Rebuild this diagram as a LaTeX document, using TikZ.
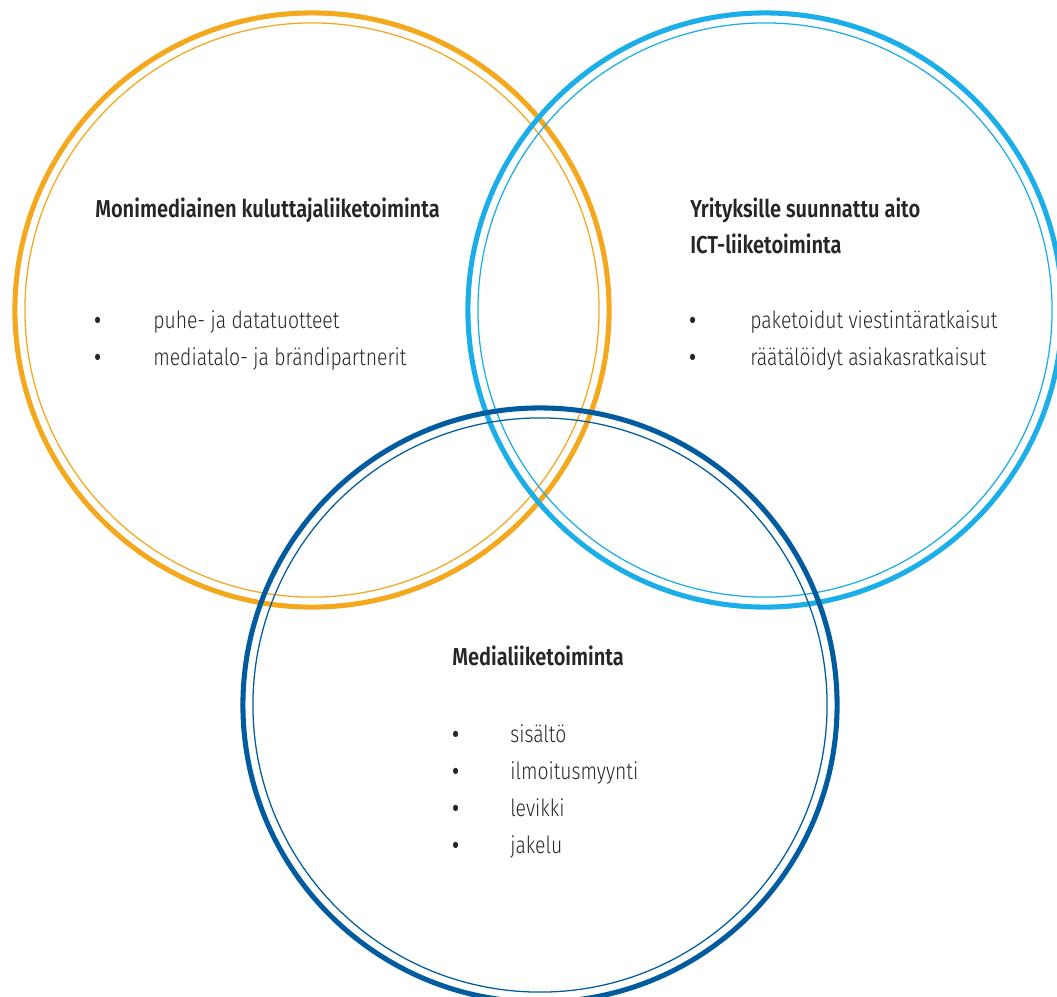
\documentclass[tikz,border=0pt]{standalone}
\usepackage{fontspec}
\setmainfont{Fira Sans}[FakeStretch=0.82, UprightFont={* Light}, BoldFont={* SemiBold}]
\usepackage{tikz}
\usetikzlibrary{calc,positioning}

\definecolor{oranssi}{HTML}{F4A81D}
\definecolor{vaalea}{HTML}{1CAEE8}
\definecolor{tumma}{HTML}{005C9E}

\begin{document}
\begin{tikzpicture}[x=0.025cm, y=-0.025cm]
\tikzstyle{ring}=[line width = 3.6pt]
\tikzstyle{inring}=[line width = 0.9pt]
\tikzstyle{hd}=[anchor = base west, inner sep = 0pt, font=\fontsize{17.4}{20}\selectfont\bfseries, text=black!85]
\tikzstyle{itm}=[anchor = base west, inner sep = 0pt, font=\fontsize{16.8}{20}\selectfont, text=black!85]
\tikzstyle{bul}=[itm, font=\fontsize{16.8}{20}\selectfont\bfseries]
\pgfmathsetmacro{\rr}{7.425}
\pgfmathsetmacro{\ri}{7.175}

\useasboundingbox (0,0) rectangle (1057,996);

\coordinate (K) at (312,310);
\coordinate (Y) at (765,310);
\coordinate (M) at (540,705);

\draw[ring, oranssi] (K) circle (\rr cm);
\draw[inring, oranssi] (K) circle (\ri cm);
\draw[ring, vaalea] (Y) circle (\rr cm);
\draw[inring, vaalea] (Y) circle (\ri cm);
\draw[ring, tumma] (M) circle (\rr cm);
\draw[inring, tumma] (M) circle (\ri cm);

\node[hd] (kt) at (95,217) {Monimediainen kuluttajaliiketoiminta};
\foreach \t [count=\i] in {puhe- ja datatuotteet, mediatalo- ja brändipartnerit}{
  \node[bul] (kb\i) at (94,{328+37.5*(\i-1)}) {\textbullet};
  \node[itm] (ki\i) at (153,{328+37.5*(\i-1)}) {\t};
}

\node[hd] (yt1) at (690,217) {Yrityksille suunnattu aito};
\node[hd] (yt2) at (690,253) {ICT-liiketoiminta};
\foreach \t [count=\i] in {paketoidut viestintäratkaisut, räätälöidyt asiakasratkaisut}{
  \node[bul] (yb\i) at (689,{328+37.5*(\i-1)}) {\textbullet};
  \node[itm] (yi\i) at (750,{328+37.5*(\i-1)}) {\t};
}

\node[hd] (mt) at (452,665) {Medialiiketoiminta};
\foreach \t [count=\i] in {sisältö, ilmoitusmyynti, levikki, jakelu}{
  \node[bul] (mb\i) at (452,{742+37*(\i-1)}) {\textbullet};
  \node[itm] (mi\i) at (510,{742+37*(\i-1)}) {\t};
}
\end{tikzpicture}
\end{document}
